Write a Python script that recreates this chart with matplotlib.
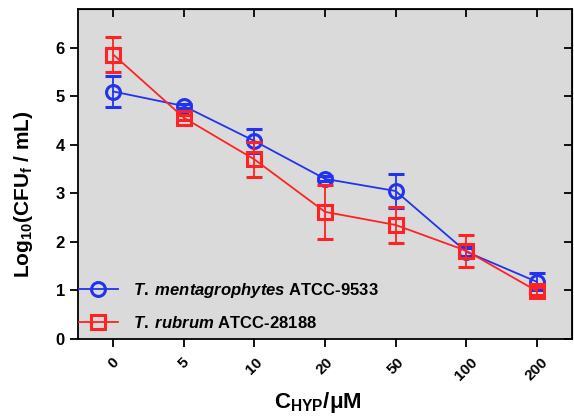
import numpy as np
import matplotlib
matplotlib.use('Agg')
import matplotlib.pyplot as plt
from matplotlib.lines import Line2D

plt.rcParams['font.family'] = ['Liberation Sans', 'DejaVu Sans']
plt.rcParams['mathtext.fontset'] = 'custom'
plt.rcParams['mathtext.rm'] = 'Liberation Sans:bold'
plt.rcParams['mathtext.it'] = 'Liberation Sans:italic:bold'
plt.rcParams['mathtext.bf'] = 'Liberation Sans:bold'

# data
conc = ['0', '5', '10', '20', '50', '100', '200']
tm_mean = [5.10, 4.80, 4.08, 3.30, 3.05, 1.80, 1.18]
tm_err = [0.31, 0.05, 0.25, 0.05, 0.35, 0.08, 0.18]
tr_mean = [5.86, 4.56, 3.70, 2.62, 2.35, 1.82, 0.99]
tr_err = [0.36, 0.05, 0.36, 0.56, 0.37, 0.33, 0.08]

blue = '#2233ee'
red = '#ff2222'

fig = plt.figure(figsize=(5.74, 4.16), dpi=100)
ax = fig.add_axes([78/574, 1 - 339/416, (572-78)/574, (339-9)/416])
ax.set_facecolor('#dadada')

x = np.arange(len(conc))
ax.errorbar(x, tm_mean, yerr=tm_err, color=blue, marker='o', ms=10, mfc='none',
            mew=2.2, lw=1.3, capsize=6, elinewidth=1.3, capthick=1.3, zorder=3)
ax.errorbar(x, tr_mean, yerr=tr_err, color=red, marker='s', ms=10, mfc='none',
            mew=2.2, lw=1.3, capsize=6, elinewidth=1.3, capthick=1.3, zorder=4)

ax.set_xlim(-0.5, 6.5)
ax.set_ylim(0, 6.8)
ax.set_xticks(x)
ax.set_xticklabels(conc, rotation=45, fontsize=11, fontweight='bold')
ax.set_yticks(range(7))
ax.set_yticklabels([str(i) for i in range(7)], fontsize=12, fontweight='bold')
ax.tick_params(axis='both', which='major', direction='out', length=6, width=1.3)
ax.tick_params(axis='x', pad=6)
for side in ['left', 'bottom', 'top', 'right']:
    ax.spines[side].set_linewidth(1.3)

# inward ticks on top and right
top = ax.secondary_xaxis('top')
top.set_xticks(x)
top.tick_params(direction='in', length=6, width=1.3, labeltop=False)
right = ax.secondary_yaxis('right')
right.set_yticks(range(7))
right.tick_params(direction='in', length=6, width=1.3, labelright=False)

ax.set_ylabel(r'Log$_{\mathbf{10}}$(CFU$_{\mathbf{f}}$ / mL)', fontsize=15,
              fontweight='bold')
ax.yaxis.set_label_coords(-0.088, 0.44)
ax.set_xlabel(r'C$_{\mathbf{HYP}}$/μM', fontsize=16, fontweight='bold')
ax.xaxis.set_label_coords(0.485, -0.155)

handles = [Line2D([], [], color=blue, marker='o', ms=10, mfc='none', mew=2.2, lw=1.3),
           Line2D([], [], color=red, marker='s', ms=10, mfc='none', mew=2.2, lw=1.3)]
labels = [r'$\it{T.\;mentagrophytes}$ ATCC-9533', r'$\it{T.\;rubrum}$ ATCC-28188']
ax.legend(handles, labels, loc='lower left', bbox_to_anchor=(-0.028, -0.022), frameon=False,
          prop={'weight': 'bold', 'size': 12}, handlelength=2.3,
          handletextpad=0.9, labelspacing=0.9)

fig.savefig('out.png', dpi=100)
